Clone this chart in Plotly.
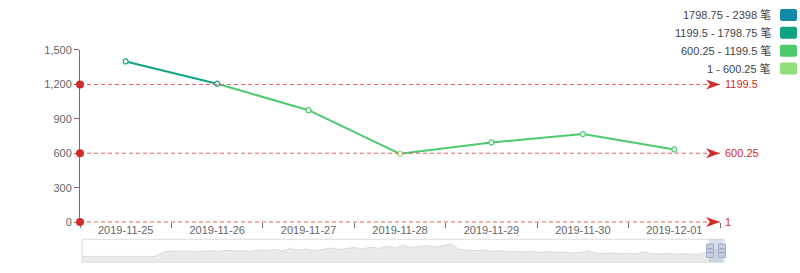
import plotly.graph_objects as go

# ---------------- data ----------------
dates = ["2019-11-25", "2019-11-26", "2019-11-27", "2019-11-28",
         "2019-11-29", "2019-11-30", "2019-12-01"]
values = [1400, 1206, 975, 595, 694, 767, 633]

piece_lo = [1, 600.25, 1199.5, 1798.75]
piece_hi = [600.25, 1199.5, 1798.75, 2398]
piece_colors = ["#90e07a", "#4cca6c", "#0fa384", "#128aa6"]
piece_unit = "笔"

mark_values = [1199.5, 600.25, 1]
mark_labels = ["1199.5", "600.25", "1"]

y_ticks = [0, 300, 600, 900, 1200, 1500]
y_range = [0, 1500]

# overview (data-zoom shadow), relative height
overview = [0.25, 0.25, 0.25, 0.25, 0.25, 0.25, 0.25, 0.25, 0.25, 0.25,
            0.42, 0.5, 0.47, 0.49, 0.46,
            0.48, 0.5, 0.47, 0.52, 0.49, 0.5, 0.47, 0.53, 0.5, 0.55, 0.5, 0.6, 0.52, 0.58, 0.5,
            0.55, 0.62, 0.56, 0.6, 0.64, 0.58, 0.66, 0.6, 0.7, 0.62, 0.75, 0.64,
            0.68, 0.72, 0.66, 0.74, 0.8,
            0.55,
            0.52, 0.5, 0.53, 0.48, 0.5, 0.46, 0.48, 0.45, 0.47, 0.43, 0.46, 0.42, 0.44,
            0.4, 0.42, 0.5, 0.4, 0.38, 0.41, 0.37, 0.39, 0.36, 0.45, 0.37, 0.36, 0.38,
            0.35, 0.37, 0.34, 0.36,
            0.45, 0.55, 0.5]

# ---------------- helpers ----------------
W, H = 800, 273
def px(x):
    return x / W
def py(y):
    return 1 - y / H

def color_for(v):
    for lo, hi, c in zip(piece_lo, piece_hi, piece_colors):
        if lo <= v <= hi:
            return c
    return piece_colors[0] if v < piece_lo[0] else piece_colors[-1]

FONT = "Liberation Sans, Noto Sans CJK SC, sans-serif"
RED = "#e35d5d"
RED_SOLID = "#d12c2c"
AXIS = "#6e7079"
TXT = "#666666"

# main plot pixel box
PX0, PX1, PY_TOP, PY_BOT = 80, 720, 46, 226
PAD = 12  # extra pixels for the overlay axis carrying the mark lines (no clipping)
units_per_px = (y_range[1] - y_range[0]) / (PY_BOT - PY_TOP)
y3_range = [y_range[0] - PAD * units_per_px, y_range[1] + PAD * units_per_px]

fig = go.Figure()

# line segments coloured by visual map
for i in range(len(values) - 1):
    mid = (values[i] + values[i + 1]) / 2
    fig.add_trace(go.Scatter(
        x=[dates[i], dates[i + 1]], y=[values[i], values[i + 1]],
        mode="lines", line=dict(color=color_for(mid), width=2),
        hoverinfo="skip", showlegend=False, xaxis="x", yaxis="y"))

# hollow point markers
fig.add_trace(go.Scatter(
    x=dates, y=values, mode="markers",
    marker=dict(size=5, color="white",
                line=dict(color=[color_for(v) for v in values], width=1.2)),
    showlegend=False, xaxis="x", yaxis="y", cliponaxis=False))

# invisible trace to create the overlay subplot for mark lines
fig.add_trace(go.Scatter(x=[dates[0]], y=[mark_values[0]], mode="markers",
                         marker=dict(opacity=0), hoverinfo="skip",
                         showlegend=False, xaxis="x", yaxis="y3"))

# overview shadow in slider
fig.add_trace(go.Scatter(
    x=list(range(len(overview))), y=overview, mode="lines",
    line=dict(color="#d4d4d4", width=0.8), fill="tozeroy",
    fillcolor="rgba(220,220,220,0.6)", hoverinfo="skip",
    showlegend=False, xaxis="x2", yaxis="y2"))

shapes = []
annotations = []

# mark lines
for v, lab in zip(mark_values, mark_labels):
    shapes.append(dict(type="line", xref="x domain", yref="y3",
                       x0=0, x1=1, y0=v, y1=v,
                       line=dict(color=RED, width=1, dash="4px,3px")))
    shapes.append(dict(type="circle", xref="x domain", yref="y3",
                       xsizemode="pixel", ysizemode="pixel",
                       xanchor=0, yanchor=v, x0=-4, x1=4, y0=-4, y1=4,
                       fillcolor=RED_SOLID, line=dict(width=0)))
    shapes.append(dict(type="path", xref="x domain", yref="y3",
                       xsizemode="pixel", ysizemode="pixel",
                       xanchor=1, yanchor=v,
                       path="M 0 0 L -14 5 L -10 0 L -14 -5 Z",
                       fillcolor=RED_SOLID, line=dict(width=0)))
    annotations.append(dict(xref="x domain", yref="y3", x=1, y=v,
                            text=lab, showarrow=False, xanchor="left",
                            xshift=3, font=dict(color=RED_SOLID, size=11, family=FONT)))

# piecewise legend
legend_rows = list(range(len(piece_lo)))[::-1]
row_y = [9.3, 28, 46.7, 65.3]
for r, idx in enumerate(legend_rows):
    lo, hi = piece_lo[idx], piece_hi[idx]
    yc = row_y[r]
    annotations.append(dict(xref="paper", yref="paper", x=px(773), y=py(yc),
                            text=f"{lo:g} - {hi:g} {piece_unit}", showarrow=False,
                            xanchor="right", yanchor="middle",
                            font=dict(color="#444444", size=11, family=FONT)))
    shapes.append(dict(type="path", xref="paper", yref="paper",
                       xsizemode="pixel", ysizemode="pixel",
                       xanchor=px(788.5), yanchor=py(yc),
                       path="M -6.5 6 L 6.5 6 Q 8.5 6 8.5 4 L 8.5 -4 Q 8.5 -6 6.5 -6 "
                            "L -6.5 -6 Q -8.5 -6 -8.5 -4 L -8.5 4 Q -8.5 6 -6.5 6 Z",
                       fillcolor=piece_colors[idx], line=dict(width=0)))

# slider frame, selection and handles
shapes.append(dict(type="rect", xref="paper", yref="paper",
                   x0=px(82), x1=px(724), y0=py(268), y1=py(244),
                   line=dict(color="#dddddd", width=1), fillcolor="rgba(0,0,0,0)"))
shapes.append(dict(type="rect", xref="paper", yref="paper",
                   x0=px(709), x1=px(723), y0=py(268), y1=py(244),
                   line=dict(width=0), fillcolor="rgba(167,183,204,0.45)"))
for hx in (710, 722):
    shapes.append(dict(type="rect", xref="paper", yref="paper",
                       x0=px(hx - 3.5), x1=px(hx + 3.5), y0=py(263), y1=py(249),
                       line=dict(color="#9fb0c8", width=1), fillcolor="#c3cfe0"))
    for ly in (254, 258):
        shapes.append(dict(type="line", xref="paper", yref="paper",
                           x0=px(hx - 2.5), x1=px(hx + 2.5), y0=py(ly), y1=py(ly),
                           line=dict(color="#8a9bb5", width=1)))

fig.update_layout(
    width=W, height=H, margin=dict(l=0, r=0, t=0, b=0),
    paper_bgcolor="white", plot_bgcolor="rgba(0,0,0,0)",
    font=dict(family=FONT, size=11, color=TXT),
    showlegend=False,
    xaxis=dict(domain=[px(PX0), px(PX1)], type="category",
               categoryorder="array", categoryarray=dates,
               range=[-0.5, len(dates) - 0.5], tickson="boundaries",
               ticks="outside", ticklen=5, tickcolor=AXIS,
               showline=False, showgrid=False, zeroline=False,
               tickfont=dict(size=11, color=TXT), anchor="y"),
    yaxis=dict(domain=[py(PY_BOT), py(PY_TOP)], range=y_range, tickvals=y_ticks,
               tickformat=",d", ticks="outside", ticklen=5, tickcolor=AXIS,
               showline=True, linecolor=AXIS, showgrid=False, zeroline=False,
               tickfont=dict(size=11, color=TXT), anchor="x"),
    yaxis3=dict(domain=[py(PY_BOT + PAD), py(PY_TOP - PAD)], range=y3_range,
                visible=False, showgrid=False, zeroline=False, anchor="x"),
    xaxis2=dict(domain=[px(82), px(724)], range=[0, len(overview) - 1],
                visible=False, anchor="y2"),
    yaxis2=dict(domain=[py(268), py(244)], range=[0, 1], visible=False,
                anchor="x2"),
    shapes=shapes, annotations=annotations,
)

fig.write_html("out.html")
